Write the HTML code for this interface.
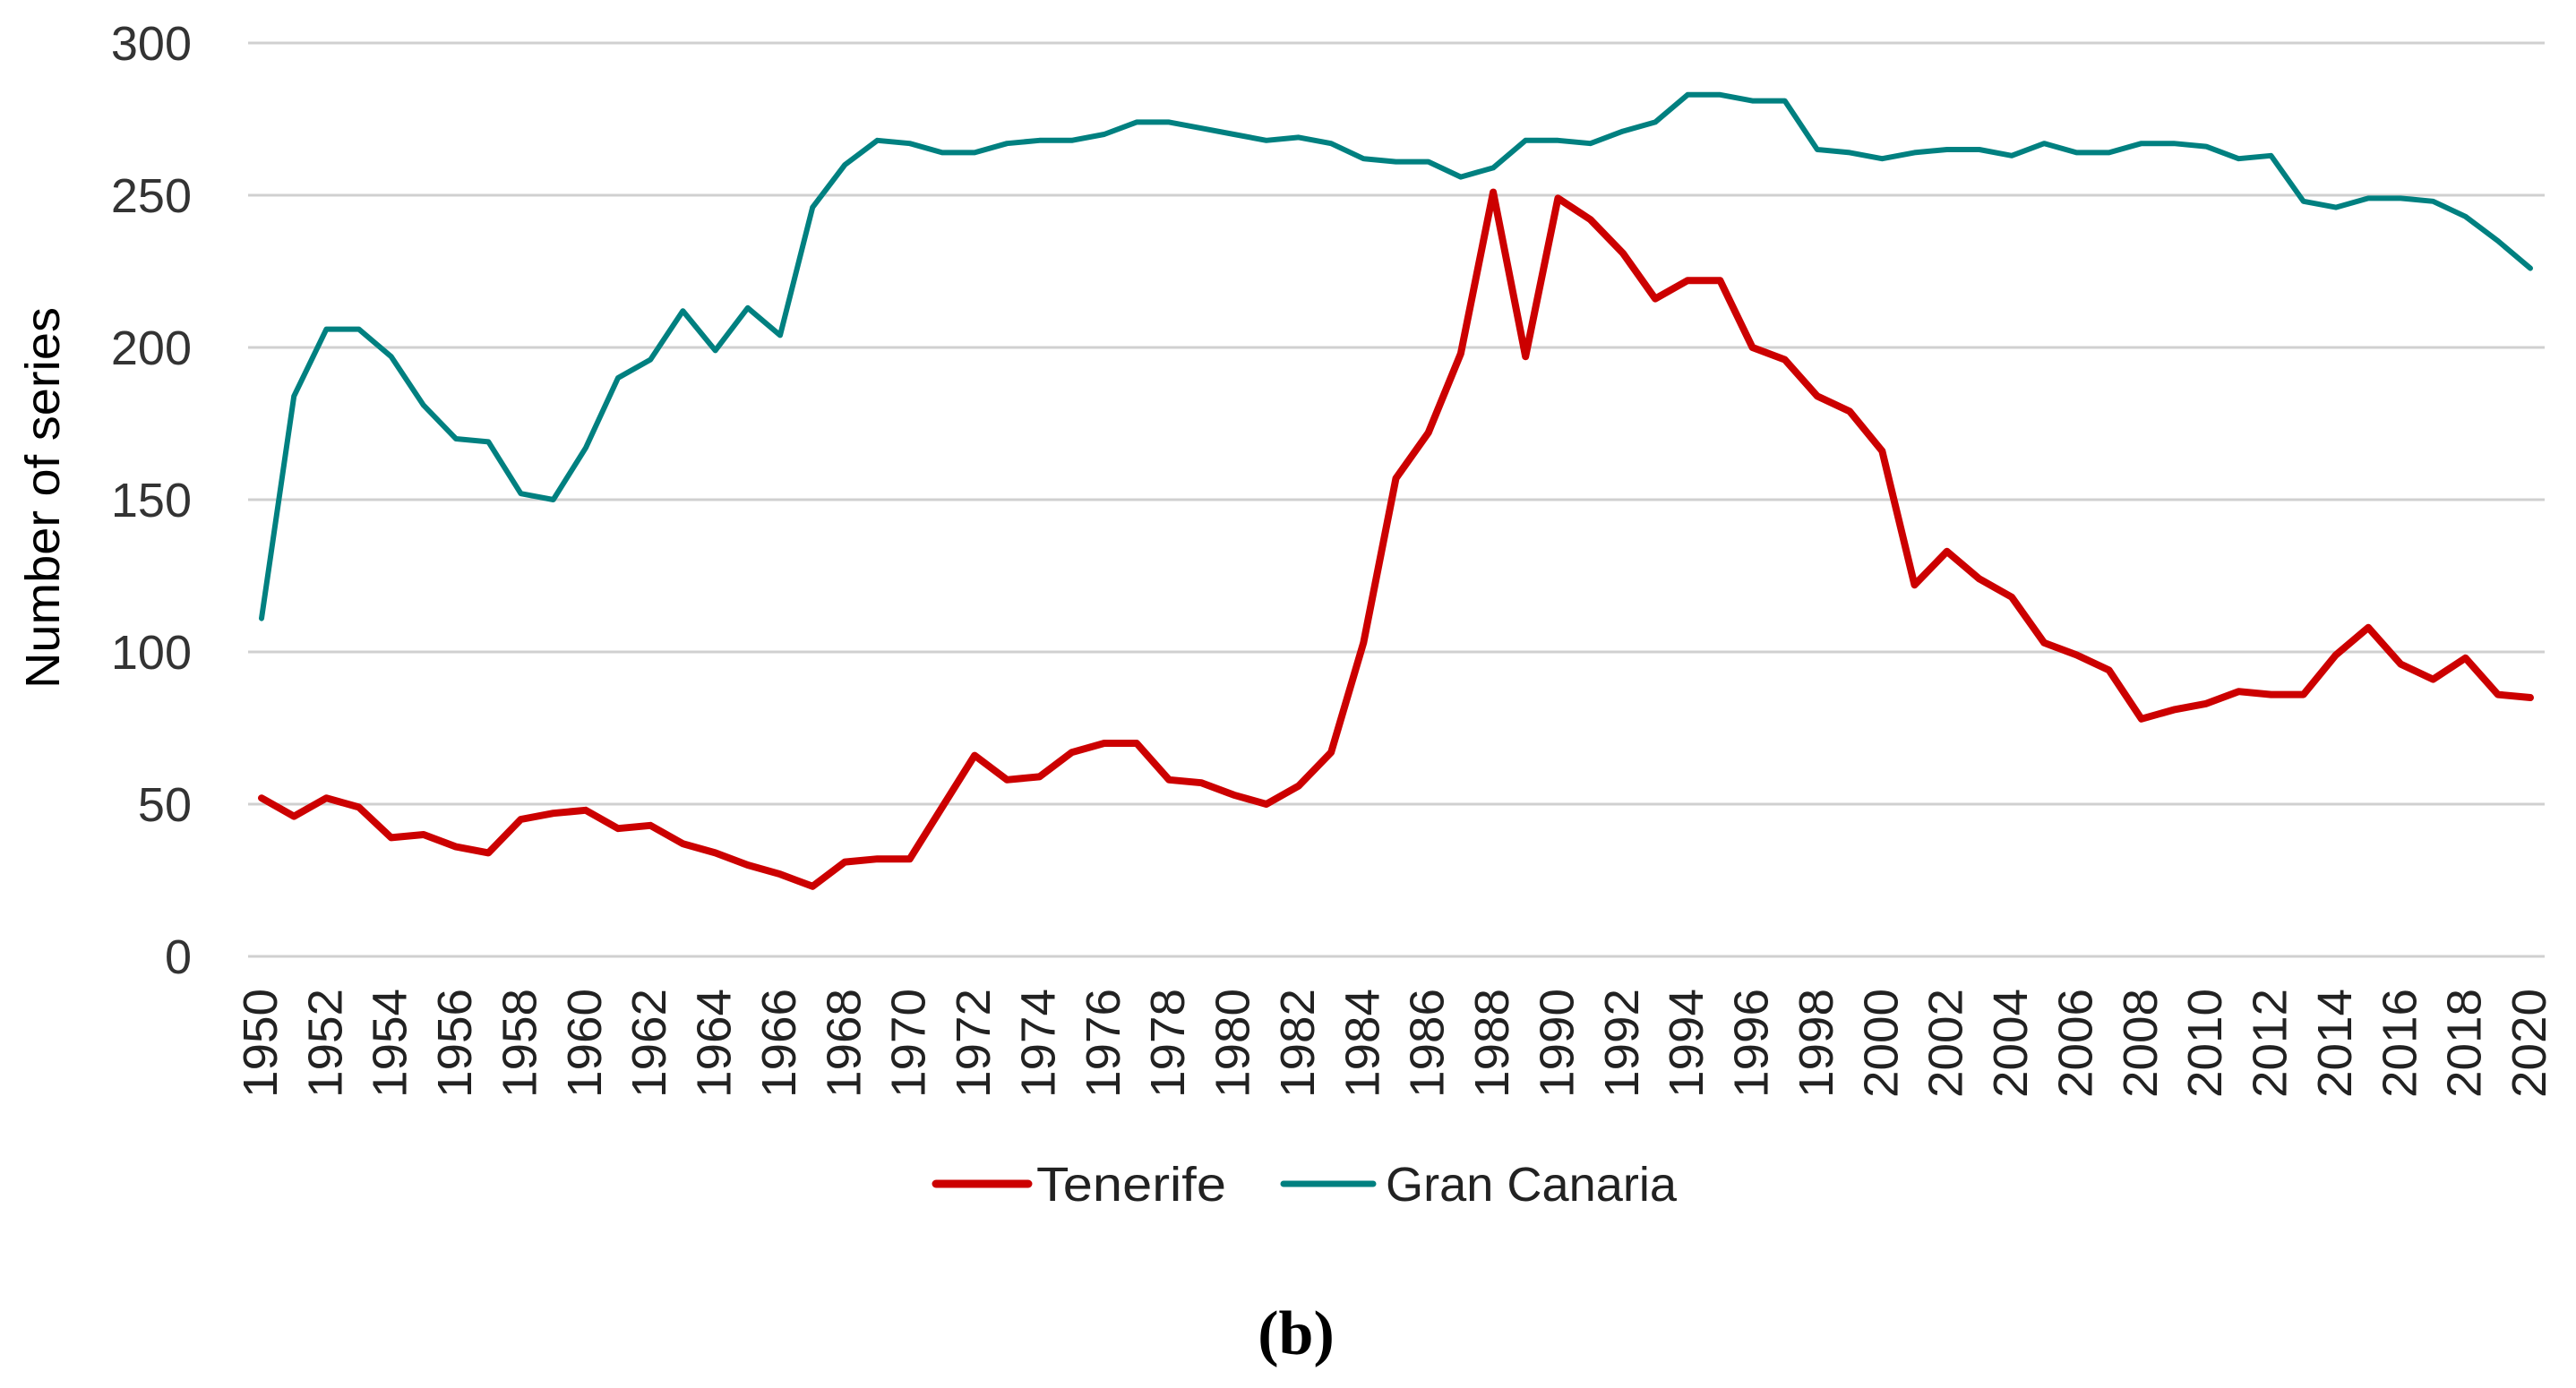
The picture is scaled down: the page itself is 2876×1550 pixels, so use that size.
<!DOCTYPE html>
<html><head><meta charset="utf-8"><style>
html,body{margin:0;padding:0;background:#fff;}
svg{display:block;}
</style></head><body>
<svg id="chart" width="2876" height="1550" viewBox="0 0 2876 1550" xmlns="http://www.w3.org/2000/svg">
<g id="grid"></g>
<g id="yticks"></g>
<g id="xticks"></g>
<g id="series"></g>
<text transform="translate(66,556) rotate(-90)" text-anchor="middle" textLength="426" lengthAdjust="spacingAndGlyphs" font-family="'Liberation Sans Narrow','Liberation Sans',sans-serif" font-size="54" fill="#000">Number of series</text>
<g>
<line x1="1045" y1="1322" x2="1148" y2="1322" stroke="#cc0000" stroke-width="9" stroke-linecap="round"/>
<text x="1157" y="1341" textLength="212" lengthAdjust="spacingAndGlyphs" font-family="'Liberation Sans Narrow','Liberation Sans',sans-serif" font-size="54" fill="#222">Tenerife</text>
<line x1="1433" y1="1322" x2="1533" y2="1322" stroke="#008080" stroke-width="7" stroke-linecap="round"/>
<text x="1547" y="1341" textLength="325" lengthAdjust="spacingAndGlyphs" font-family="'Liberation Sans Narrow','Liberation Sans',sans-serif" font-size="54" fill="#222">Gran Canaria</text>
</g>
<text x="1447" y="1512" text-anchor="middle" font-family="'Liberation Serif',serif" font-weight="bold" font-size="70" fill="#000">(b)</text>
</svg>
<script>
const years = [];
for (let y = 1950; y <= 2020; y++) years.push(y);
const tenerife = [52,46,52,49,39,40,36,34,45,47,48,42,43,37,34,30,27,23,31,32,32,49,66,58,59,67,70,70,58,57,53,50,56,67,103,157,172,198,251,197,249,242,231,216,222,222,200,196,184,179,166,122,133,124,118,103,99,94,78,81,83,87,86,86,99,108,96,91,98,86,85];
const granCanaria = [111,184,206,206,197,181,170,169,152,150,167,190,196,212,199,213,204,246,260,268,267,264,264,267,268,268,270,274,274,272,270,268,269,267,262,261,261,256,259,268,268,267,271,274,283,283,281,281,265,264,262,264,265,265,263,267,264,264,267,267,266,262,263,248,246,249,249,248,243,235,226];
const yTicks = [0,50,100,150,200,250,300];

const NS = 'http://www.w3.org/2000/svg';
const X0 = 292, X1 = 2825, PL = 277, PR = 2841, Y0 = 1068, Y300 = 48;
const xs = i => X0 + (X1 - X0) * i / (years.length - 1);
const ys = v => Y0 - (Y0 - Y300) * v / 300;

const grid = document.getElementById('grid');
const yt = document.getElementById('yticks');
yTicks.forEach(v => {
  const l = document.createElementNS(NS, 'line');
  
  
  l.setAttribute('x1', PL); l.setAttribute('x2', PR);
  l.setAttribute('y1', ys(v)); l.setAttribute('y2', ys(v));
  l.setAttribute('stroke', '#d0d0d0'); l.setAttribute('stroke-width', '3');
  grid.appendChild(l);
  const t = document.createElementNS(NS, 'text');
  
  
  t.setAttribute('x', 214); t.setAttribute('y', ys(v) + 19);
  t.setAttribute('text-anchor', 'end');
  t.setAttribute('font-family', "'Liberation Sans',sans-serif");
  t.setAttribute('font-size', '54');
  t.setAttribute('fill', '#333');
  t.textContent = v;
  yt.appendChild(t);
});

const xt = document.getElementById('xticks');
years.forEach((y, i) => {
  if (y % 2) return;
  const t = document.createElementNS(NS, 'text');
  
  
  const x = xs(i) + 17;
  t.setAttribute('transform', 'translate(' + x + ',1104) rotate(-90)');
  t.setAttribute('text-anchor', 'end');
  t.setAttribute('font-family', "'Liberation Sans Narrow','Liberation Sans',sans-serif");
  t.setAttribute('font-size', '54');
  t.setAttribute('textLength', '122');
  t.setAttribute('lengthAdjust', 'spacingAndGlyphs');
  t.setAttribute('fill', '#222');
  t.textContent = y;
  xt.appendChild(t);
});

const ser = document.getElementById('series');
function drawLine(vals, color, w, name) {
  const p = document.createElementNS(NS, 'polyline');
  
  
  p.setAttribute('points', vals.map((v, i) => xs(i).toFixed(1) + ',' + ys(v).toFixed(1)).join(' '));
  p.setAttribute('fill', 'none');
  p.setAttribute('stroke', color);
  p.setAttribute('stroke-width', w);
  p.setAttribute('stroke-linejoin', 'round');
  p.setAttribute('stroke-linecap', 'round');
  ser.appendChild(p);
}
drawLine(granCanaria, '#008080', 6, 'gran-canaria-line');
drawLine(tenerife, '#cc0000', 8, 'tenerife-line');
</script>
</body></html>
